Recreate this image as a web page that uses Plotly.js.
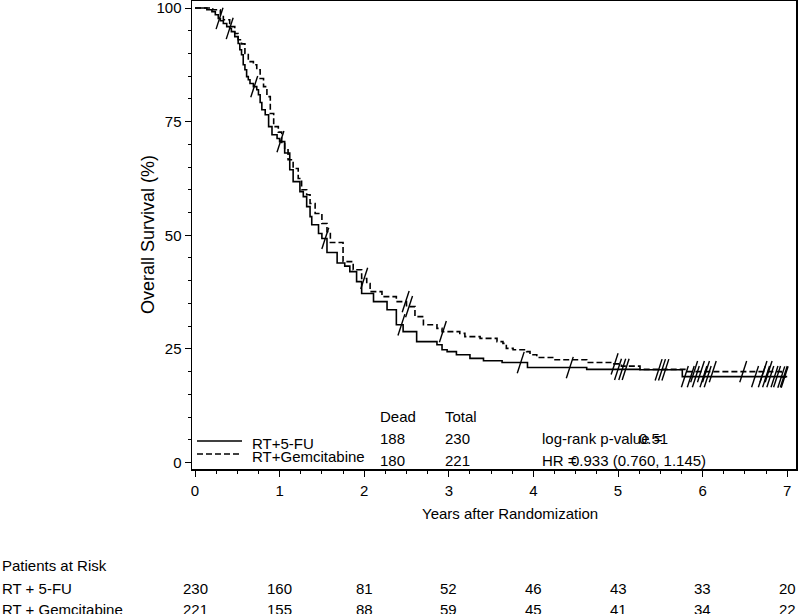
<!DOCTYPE html>
<html>
<head>
<meta charset="utf-8">
<script src="https://cdn.plot.ly/plotly-3.0.1.min.js"></script>
<style>html,body{margin:0;padding:0;background:#fff;}#chart{width:800px;height:614px;}</style>
</head>
<body>
<div id="chart"></div>
<script>
// Kaplan-Meier step data (years, % surviving)
const fuTime = [0, 0.14, 0.20, 0.24, 0.275, 0.30, 0.335, 0.375, 0.41, 0.43, 0.47, 0.51, 0.53, 0.55, 0.57, 0.59, 0.61, 0.63, 0.65, 0.69, 0.73, 0.75, 0.77, 0.79, 0.83, 0.87, 0.91, 0.97, 1.00, 1.06, 1.12, 1.16, 1.24, 1.28, 1.32, 1.36, 1.38, 1.46, 1.50, 1.56, 1.68, 1.77, 1.83, 1.91, 1.97, 2.11, 2.27, 2.38, 2.46, 2.62, 2.86, 2.92, 2.98, 3.09, 3.25, 3.41, 3.63, 3.93, 4.63, 5.26, 5.76, 7.0];
const fuSurv = [100, 99.6, 99.2, 98.5, 97.7, 97.2, 96.6, 95.9, 95.5, 94.8, 93.7, 92.2, 90.8, 89.7, 87.5, 86.4, 84.9, 84.2, 83.4, 82.7, 82.0, 80.9, 79.2, 77.6, 76.5, 73.9, 72.1, 71.3, 70.6, 68.1, 64.4, 61.8, 59.6, 58.5, 56.3, 54.1, 52.3, 50.4, 49.3, 46.2, 43.9, 43.2, 42.0, 39.8, 37.2, 35.4, 33.6, 30.3, 28.8, 26.6, 25.9, 24.8, 24.4, 23.7, 22.9, 22.4, 22.0, 20.9, 20.5, 20.4, 18.9, 18.9];
const gemTime = [0, 0.21, 0.30, 0.335, 0.41, 0.47, 0.51, 0.55, 0.59, 0.63, 0.69, 0.73, 0.77, 0.81, 0.85, 0.89, 0.93, 0.985, 1.025, 1.06, 1.10, 1.16, 1.22, 1.26, 1.32, 1.36, 1.42, 1.50, 1.56, 1.60, 1.75, 1.87, 1.97, 2.03, 2.07, 2.21, 2.38, 2.50, 2.60, 2.70, 2.86, 2.92, 3.13, 3.19, 3.37, 3.57, 3.64, 3.68, 3.76, 3.92, 3.96, 4.04, 4.24, 4.63, 4.94, 5.04, 5.26, 5.80, 6.93, 7.0];
const gemSurv = [100, 99.6, 98.5, 97.4, 95.9, 94.4, 93.0, 92.1, 90.0, 88.2, 87.5, 86.4, 84.5, 82.7, 80.5, 76.8, 73.9, 72.7, 70.2, 68.8, 66.6, 64.7, 62.5, 60.0, 58.9, 57.0, 54.8, 52.6, 50.8, 48.4, 44.2, 42.4, 40.5, 39.4, 37.6, 36.5, 35.4, 34.3, 32.1, 30.3, 29.5, 28.8, 28.4, 27.7, 27.3, 26.6, 26.2, 25.1, 24.8, 24.4, 23.7, 23.1, 22.6, 22.0, 21.7, 21.2, 20.5, 20.0, 18.8, 18.8];
// censoring times
const fuCensor = [0.29, 0.41, 0.70, 1.01, 1.54, 2.44, 3.85, 4.43, 5.00, 5.05, 5.09, 5.48, 5.52, 5.56, 5.79, 5.86, 5.92, 6.01, 6.06, 6.62, 6.70, 6.75, 6.80, 6.85, 6.88, 6.96];
const gemCensor = [2.00, 2.49, 2.53, 2.93, 4.96, 5.90, 5.98, 6.04, 6.12, 6.48, 6.72, 6.78, 6.93, 6.97];
// risk table
const riskTimes = [0, 1, 2, 3, 4, 5, 6, 7];
const risk5FU = [230, 160, 81, 52, 46, 43, 33, 20];
const riskGem = [221, 155, 88, 59, 45, 41, 34, 22];
const groupNames = ["RT+5-FU", "RT+Gemcitabine"];
const riskNames = ["RT + 5-FU", "RT + Gemcitabine"];
const deadCounts = [188, 180];
const totalCounts = [230, 221];
const xTicks = [0, 1, 2, 3, 4, 5, 6, 7];
const yTicks = [0, 25, 50, 75, 100];

function stepAt(ts, ss, t) {
  let v = ss[0];
  for (let i = 0; i < ts.length; i++) { if (ts[i] <= t) v = ss[i]; else break; }
  return v;
}

const FONT = "Liberation Sans, Arial, sans-serif";
const markerStyle = {symbol: 'line-ns', size: 16, angle: 18, line: {width: 1.4, color: '#000'}};

const traces = [
  {x: fuTime, y: fuSurv, type: 'scatter', mode: 'lines', name: groupNames[0],
   line: {shape: 'hv', color: '#000', width: 1.6}, showlegend: false},
  {x: gemTime, y: gemSurv, type: 'scatter', mode: 'lines', name: groupNames[1],
   line: {shape: 'hv', color: '#000', width: 1.6, dash: '6px,3px'}, showlegend: false},
  {x: fuCensor, y: fuCensor.map(t => stepAt(fuTime, fuSurv, t)), type: 'scatter', mode: 'markers',
   marker: markerStyle, showlegend: false, hoverinfo: 'skip'},
  {x: gemCensor, y: gemCensor.map(t => stepAt(gemTime, gemSurv, t)), type: 'scatter', mode: 'markers',
   marker: markerStyle, showlegend: false, hoverinfo: 'skip'}
];

function px2py(p) { return (469 - p) / 468; }
function px2px(p) { return (p - 192) / 604; }

const ann = [];
function txt(text, x, y, xanchor, xref, size, angle) {
  ann.push({text: text, x: x, y: y, xref: xref || 'paper', yref: 'paper', xanchor: xanchor || 'left',
            yanchor: 'middle', showarrow: false, textangle: angle || 0,
            font: {family: FONT, size: size || 15, color: '#000'}});
}
// in-plot legend texts and stats
txt(groupNames[0], px2px(250), px2py(443));
txt(groupNames[1], px2px(250), px2py(456));
txt("Dead", px2px(378), px2py(416));
txt("Total", px2px(443), px2py(416));
txt(String(deadCounts[0]), px2px(378), px2py(438));
txt(String(totalCounts[0]), px2px(443), px2py(438));
txt(String(deadCounts[1]), px2px(378), px2py(460));
txt(String(totalCounts[1]), px2px(443), px2py(460));
txt("log-rank p-value =", px2px(540), px2py(438));
txt("0.51", px2px(637), px2py(438));
txt("HR =", px2px(540), px2py(460));
txt("0.933 (0.760, 1.145)", px2px(569), px2py(460));
// axis titles
txt("Years after Randomization", 3.72, px2py(513), 'center', 'x');
txt("Overall Survival (%)", px2px(148), px2py(235), 'center', 'paper', 18, -90);
// risk table
txt("Patients at Risk", px2px(0), px2py(565));
txt(riskNames[0], px2px(0), px2py(588));
txt(riskNames[1], px2px(0), px2py(609));
riskTimes.forEach((t, i) => {
  txt(String(risk5FU[i]), t, px2py(588), 'center', 'x');
  txt(String(riskGem[i]), t, px2py(609), 'center', 'x');
});

const shapes = [
  {type: 'line', xref: 'paper', yref: 'paper', x0: px2px(197), x1: px2px(242), y0: px2py(441), y1: px2py(441),
   line: {color: '#000', width: 1.6}},
  {type: 'line', xref: 'paper', yref: 'paper', x0: px2px(197), x1: px2px(242), y0: px2py(454), y1: px2py(454),
   line: {color: '#000', width: 1.6, dash: '6px,3px'}}
];

const layout = {
  width: 800, height: 614,
  margin: {l: 192, r: 4, t: 1, b: 145},
  paper_bgcolor: '#fff', plot_bgcolor: '#fff',
  font: {family: FONT, size: 15, color: '#000'},
  showlegend: false,
  xaxis: {
    range: [-0.0355, 7.104], tickvals: xTicks, ticktext: xTicks.map(String),
    ticks: 'outside', ticklen: 6, tickwidth: 1, tickcolor: '#000',
    minor: {dtick: 0.25, ticks: 'outside', ticklen: 3, tickwidth: 1, tickcolor: '#000'},
    showline: true, linecolor: '#000', linewidth: 1.5, mirror: true,
    showgrid: false, zeroline: false, tickfont: {family: FONT, size: 15, color: '#000'},
    ticklabelstandoff: 1, ticklabeloverflow: 'allow'
  },
  yaxis: {
    range: [-1.43, 101.54], tickvals: yTicks, ticktext: yTicks.map(String),
    ticks: 'outside', ticklen: 6, tickwidth: 1, tickcolor: '#000',
    minor: {dtick: 5, ticks: 'outside', ticklen: 3, tickwidth: 1, tickcolor: '#000'},
    showline: true, linecolor: '#000', linewidth: 1.5, mirror: true,
    showgrid: false, zeroline: false, tickfont: {family: FONT, size: 15, color: '#000'},
    ticklabeloverflow: 'allow'
  },
  annotations: ann,
  shapes: shapes
};

Plotly.newPlot('chart', traces, layout, {displayModeBar: false, staticPlot: true});
</script>
</body>
</html>
